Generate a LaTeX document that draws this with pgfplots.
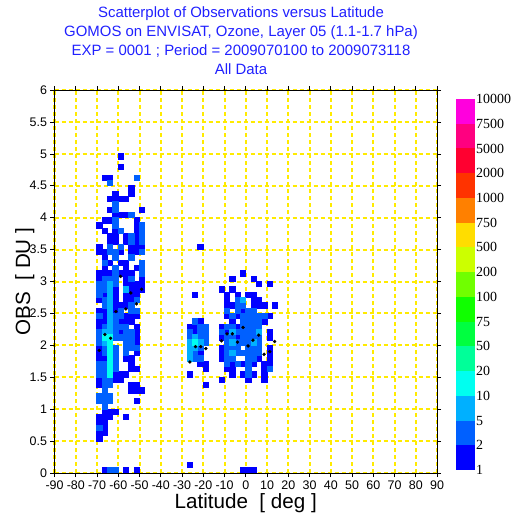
\documentclass[border=0pt]{standalone}
\usepackage{pgfplots}
\pgfplotsset{compat=1.18}
\usepackage{fontspec}
\setmainfont{Liberation Sans}
\newfontfamily\cbfont{Liberation Serif}
\definecolor{cb0}{RGB}{0,0,255}
\definecolor{cb1}{RGB}{0,96,255}
\definecolor{cb2}{RGB}{0,176,255}
\definecolor{cb3}{RGB}{0,255,240}
\definecolor{cb4}{RGB}{0,255,153}
\definecolor{cb5}{RGB}{0,255,64}
\definecolor{cb6}{RGB}{16,255,0}
\definecolor{cb7}{RGB}{112,255,0}
\definecolor{cb8}{RGB}{204,255,0}
\definecolor{cb9}{RGB}{255,221,0}
\definecolor{cb10}{RGB}{255,128,0}
\definecolor{cb11}{RGB}{255,51,0}
\definecolor{cb12}{RGB}{255,0,48}
\definecolor{cb13}{RGB}{255,0,128}
\definecolor{cb14}{RGB}{255,0,221}
\definecolor{gridyellow}{RGB}{255,235,0}
\definecolor{titleblue}{RGB}{32,32,255}
\begin{document}
\begin{tikzpicture}
\useasboundingbox (0,0) rectangle (515bp,518bp);
\begin{axis}[
 at={(54.5bp,45bp)}, anchor=south west, scale only axis,
 width=382.5bp, height=383bp,
 xmin=-90, xmax=90, ymin=0, ymax=6,
 xtick={-90,-80,...,90}, ytick={0,0.5,...,6},
 axis on top, grid=major,
 major grid style={draw=gridyellow, line width=2bp, dash pattern=on 4bp off 3bp},
 tick align=outside, major tick length=4bp,
 tick style={black, line width=0.6bp},
 axis line style={black, line width=0.8bp},
 /pgf/number format/assume math mode=true,
 ticklabel style={font=\fontsize{12.5}{14}\selectfont},
 xlabel={Latitude~~[ deg ]}, ylabel={OBS~~[ DU ]},
 label style={font=\fontsize{20.7}{24}\selectfont},
 xlabel style={at={(axis description cs:0.5,0)}, anchor=base, yshift=-35bp},
 ylabel style={at={(axis description cs:-0.064,0.5)}, anchor=base},
]
% counts 1
\addplot[only marks, mark=square*, mark size=2.66bp, color=cb0, mark options={line width=0pt}] table {
x y
-58.75 4.958
-58.75 4.792
-66.25 4.625
-63.75 4.625
-53.75 4.458
-61.25 4.375
-53.75 4.375
-63.75 4.292
-61.25 4.292
-58.75 4.292
-56.25 4.292
-63.75 4.125
-48.75 4.125
-61.25 4.042
-58.75 4.042
-56.25 4.042
-66.25 3.958
-63.75 3.958
-51.25 3.958
-68.75 3.875
-51.25 3.875
-66.25 3.792
-61.25 3.792
-51.25 3.792
-63.75 3.708
-61.25 3.708
-56.25 3.708
-51.25 3.708
-63.75 3.625
-61.25 3.625
-56.25 3.625
-51.25 3.625
-68.75 3.542
-53.75 3.542
-51.25 3.542
-48.75 3.542
-68.75 3.458
-66.25 3.458
-58.75 3.458
-53.75 3.458
-51.25 3.458
-66.25 3.375
-63.75 3.292
-58.75 3.292
-56.25 3.292
-66.25 3.208
-56.25 3.208
-51.25 3.208
-68.75 3.125
-66.25 3.125
-63.75 3.125
-58.75 3.125
-56.25 3.125
-53.75 3.125
-68.75 3.042
-56.25 3.042
-48.75 3.042
-56.25 2.958
-53.75 2.958
-51.25 2.958
-48.75 2.958
-61.25 2.875
-53.75 2.875
-51.25 2.875
-48.75 2.875
-66.25 2.792
-61.25 2.792
-56.25 2.792
-53.75 2.792
-51.25 2.792
-68.75 2.708
-61.25 2.708
-56.25 2.708
-53.75 2.708
-61.25 2.625
-58.75 2.625
-56.25 2.625
-68.75 2.542
-66.25 2.542
-61.25 2.542
-66.25 2.458
-56.25 2.458
-53.75 2.458
-51.25 2.458
-68.75 2.375
-66.25 2.375
-58.75 2.375
-56.25 2.375
-53.75 2.375
-68.75 2.292
-51.25 2.292
-58.75 2.208
-51.25 2.208
-51.25 2.125
-51.25 2.042
-68.75 1.958
-68.75 1.875
-51.25 1.875
-68.75 1.792
-66.25 1.792
-56.25 1.792
-53.75 1.792
-53.75 1.708
-53.75 1.625
-51.25 1.625
-61.25 1.542
-58.75 1.542
-56.25 1.542
-68.75 1.458
-61.25 1.458
-58.75 1.458
-68.75 1.375
-53.75 1.375
-51.25 1.375
-53.75 1.292
-51.25 1.292
-48.75 1.292
-51.25 1.125
-66.25 0.958
-63.75 0.958
-61.25 0.958
-68.75 0.875
-66.25 0.875
-63.75 0.875
-56.25 0.875
-68.75 0.792
-66.25 0.792
-66.25 0.708
-68.75 0.625
-66.25 0.625
-68.75 0.542
-66.25 0.042
-56.25 0.042
-51.25 0.042
-21.25 3.542
-23.75 2.792
-21.25 2.375
-26.25 2.292
-23.75 2.292
-23.75 2.208
-21.25 1.875
-21.25 1.708
-18.75 1.708
-18.75 1.625
-26.25 1.542
-18.75 1.375
-26.25 0.125
-1.25 3.125
-6.25 3.042
3.75 3.042
6.25 2.958
11.25 2.958
-11.25 2.875
-6.25 2.875
-8.75 2.792
-3.75 2.792
1.25 2.792
3.75 2.792
-8.75 2.708
3.75 2.708
6.25 2.708
-8.75 2.625
-6.25 2.625
3.75 2.625
6.25 2.625
8.75 2.625
13.75 2.625
-1.25 2.542
-8.75 2.458
-3.75 2.458
11.25 2.458
-6.25 2.375
8.75 2.375
-11.25 2.292
-3.75 2.292
-8.75 2.208
11.25 2.208
-11.25 2.125
-3.75 2.125
11.25 2.125
-11.25 1.958
11.25 1.958
-11.25 1.875
11.25 1.875
-11.25 1.792
6.25 1.792
11.25 1.792
-6.25 1.708
-1.25 1.708
3.75 1.708
8.75 1.708
11.25 1.708
-8.75 1.625
-6.25 1.625
8.75 1.625
-6.25 1.542
-1.25 1.542
3.75 1.542
8.75 1.542
-11.25 1.458
1.25 1.458
8.75 1.458
-1.25 0.042
1.25 0.042
3.75 0.042
};
% counts 2-5
\addplot[only marks, mark=square*, mark size=2.66bp, color=cb1, mark options={line width=0pt}] table {
x y
-51.25 4.625
-63.75 4.542
-61.25 4.208
-61.25 4.125
-53.75 4.042
-61.25 3.958
-61.25 3.875
-48.75 3.875
-58.75 3.792
-48.75 3.792
-53.75 3.708
-48.75 3.708
-53.75 3.625
-48.75 3.625
-63.75 3.542
-58.75 3.542
-63.75 3.458
-61.25 3.458
-48.75 3.458
-61.25 3.375
-53.75 3.375
-66.25 3.292
-48.75 3.292
-61.25 3.208
-48.75 3.208
-61.25 3.125
-48.75 3.125
-66.25 3.042
-63.75 3.042
-61.25 3.042
-53.75 3.042
-68.75 2.958
-66.25 2.958
-61.25 2.958
-68.75 2.875
-66.25 2.875
-68.75 2.792
-66.25 2.708
-51.25 2.708
-66.25 2.625
-53.75 2.625
-58.75 2.542
-53.75 2.542
-51.25 2.542
-68.75 2.458
-61.25 2.458
-58.75 2.458
-61.25 2.375
-66.25 2.292
-61.25 2.292
-58.75 2.292
-56.25 2.292
-68.75 2.208
-61.25 2.208
-56.25 2.208
-53.75 2.208
-68.75 2.125
-61.25 2.125
-58.75 2.125
-56.25 2.125
-53.75 2.125
-68.75 2.042
-56.25 2.042
-53.75 2.042
-66.25 1.958
-61.25 1.958
-56.25 1.958
-53.75 1.958
-51.25 1.958
-66.25 1.875
-61.25 1.875
-56.25 1.875
-61.25 1.792
-68.75 1.708
-66.25 1.708
-61.25 1.708
-68.75 1.625
-66.25 1.625
-61.25 1.625
-68.75 1.542
-66.25 1.542
-66.25 1.458
-63.75 1.458
-66.25 1.375
-63.75 1.375
-66.25 1.292
-68.75 1.208
-66.25 1.208
-63.75 1.208
-68.75 1.125
-66.25 1.125
-63.75 1.125
-66.25 1.042
-68.75 0.708
-63.75 0.042
-61.25 0.042
-23.75 2.375
-21.25 2.292
-18.75 2.292
-26.25 2.208
-21.25 2.208
-18.75 2.208
-26.25 2.125
-21.25 2.125
-18.75 2.125
-18.75 2.042
-21.25 1.958
-23.75 1.875
-23.75 1.792
-21.25 1.792
-3.75 2.708
-3.75 2.625
-1.25 2.625
-8.75 2.542
-3.75 2.542
1.25 2.542
3.75 2.542
-6.25 2.458
-1.25 2.458
1.25 2.458
3.75 2.458
6.25 2.458
8.75 2.458
-1.25 2.375
1.25 2.375
3.75 2.375
6.25 2.375
-8.75 2.292
-6.25 2.292
-1.25 2.292
1.25 2.292
3.75 2.292
6.25 2.292
-11.25 2.208
-3.75 2.208
-1.25 2.208
1.25 2.208
3.75 2.208
-8.75 2.125
-6.25 2.125
-1.25 2.125
1.25 2.125
3.75 2.125
6.25 2.125
-8.75 2.042
-3.75 2.042
-1.25 2.042
1.25 2.042
6.25 2.042
-8.75 1.958
-6.25 1.958
-3.75 1.958
1.25 1.958
3.75 1.958
6.25 1.958
-8.75 1.875
-3.75 1.875
-1.25 1.875
1.25 1.875
3.75 1.875
6.25 1.875
-8.75 1.792
-6.25 1.792
1.25 1.792
3.75 1.792
-8.75 1.708
-3.75 1.708
1.25 1.708
1.25 1.625
11.25 1.625
1.25 1.542
};
% counts 5-10
\addplot[only marks, mark=square*, mark size=2.66bp, color=cb2, mark options={line width=0pt}] table {
x y
-63.75 2.958
-63.75 2.875
-56.25 2.875
-63.75 2.792
-63.75 2.708
-63.75 2.625
-63.75 2.542
-63.75 2.458
-63.75 2.375
-63.75 2.292
-66.25 2.208
-63.75 2.208
-66.25 2.042
-23.75 2.125
-26.25 2.042
-21.25 2.042
-26.25 1.958
-23.75 1.958
-26.25 1.875
-26.25 1.792
-1.25 2.708
-6.25 2.208
6.25 2.208
-6.25 2.042
3.75 2.042
-6.25 1.875
};
% counts 10-20
\addplot[only marks, mark=square*, mark size=2.66bp, color=cb3, mark options={line width=0pt}] table {
x y
-66.25 2.125
-63.75 2.125
-63.75 2.042
-63.75 1.958
-63.75 1.875
-63.75 1.792
-63.75 1.708
-63.75 1.625
-63.75 1.542
-23.75 2.042
};
% black dots
\addplot[only marks, mark=*, mark size=1.5bp, black] table {
x y
-58.9 3.08
-54.1 2.82
-49.0 2.88
-51.4 2.65
-61.1 2.53
-56.4 2.57
-66.3 2.17
-63.6 2.11
-68.95 1.92
-23.65 1.98
-21.2 1.98
-18.8 1.95
-26.3 1.74
-8.8 2.18
-6.3 2.18
-11.4 2.07
-1.28 2.28
6.1 2.16
-3.9 2.05
3.4 2.08
1.07 1.99
13.6 2.06
8.6 1.86
11.3 1.90
};
\end{axis}
% minor ticks along the bottom axis
\begin{axis}[
 at={(54.5bp,45bp)}, anchor=south west, scale only axis,
 width=382.5bp, height=383bp,
 xmin=-90, xmax=90, ymin=0, ymax=6,
 axis y line=none, axis x line*=bottom, axis line style={draw=none},
 xtick=\empty, minor xtick={-88,-86,...,88},
 minor tick length=3bp, tick align=center,
 tick style={black, line width=0.9bp},
]
\end{axis}
% colour bar
\begin{axis}[
 at={(456bp,48bp)}, anchor=south west, scale only axis,
 width=19bp, height=371bp,
 xmin=0, xmax=1, ymin=0, ymax=15,
 axis line style={draw=none}, xtick=\empty,
 ytick={0,1,...,15},
 yticklabels={1,2,5,10,20,50,75,100,200,500,750,1000,2000,5000,7500,10000},
 yticklabel pos=right, major tick length=0pt, tick style={draw=none},
 yticklabel style={font=\cbfont\fontsize{14}{16}\selectfont, inner sep=1bp},
]
\addplot[fill=cb0, draw=none, no markers] coordinates {(0,0) (1,0) (1,1) (0,1)};
\addplot[fill=cb1, draw=none, no markers] coordinates {(0,1) (1,1) (1,2) (0,2)};
\addplot[fill=cb2, draw=none, no markers] coordinates {(0,2) (1,2) (1,3) (0,3)};
\addplot[fill=cb3, draw=none, no markers] coordinates {(0,3) (1,3) (1,4) (0,4)};
\addplot[fill=cb4, draw=none, no markers] coordinates {(0,4) (1,4) (1,5) (0,5)};
\addplot[fill=cb5, draw=none, no markers] coordinates {(0,5) (1,5) (1,6) (0,6)};
\addplot[fill=cb6, draw=none, no markers] coordinates {(0,6) (1,6) (1,7) (0,7)};
\addplot[fill=cb7, draw=none, no markers] coordinates {(0,7) (1,7) (1,8) (0,8)};
\addplot[fill=cb8, draw=none, no markers] coordinates {(0,8) (1,8) (1,9) (0,9)};
\addplot[fill=cb9, draw=none, no markers] coordinates {(0,9) (1,9) (1,10) (0,10)};
\addplot[fill=cb10, draw=none, no markers] coordinates {(0,10) (1,10) (1,11) (0,11)};
\addplot[fill=cb11, draw=none, no markers] coordinates {(0,11) (1,11) (1,12) (0,12)};
\addplot[fill=cb12, draw=none, no markers] coordinates {(0,12) (1,12) (1,13) (0,13)};
\addplot[fill=cb13, draw=none, no markers] coordinates {(0,13) (1,13) (1,14) (0,14)};
\addplot[fill=cb14, draw=none, no markers] coordinates {(0,14) (1,14) (1,15) (0,15)};
\end{axis}
\node[anchor=north, align=center, inner sep=0pt, text=titleblue,
 font=\fontsize{15}{18.9}\selectfont] at (241bp,511.5bp)
 {Scatterplot of Observations versus Latitude\\
  GOMOS on ENVISAT, Ozone, Layer 05 (1.1-1.7 hPa)\\
  EXP = 0001 ; Period = 2009070100 to 2009073118\\
  All Data};
\end{tikzpicture}
\end{document}
